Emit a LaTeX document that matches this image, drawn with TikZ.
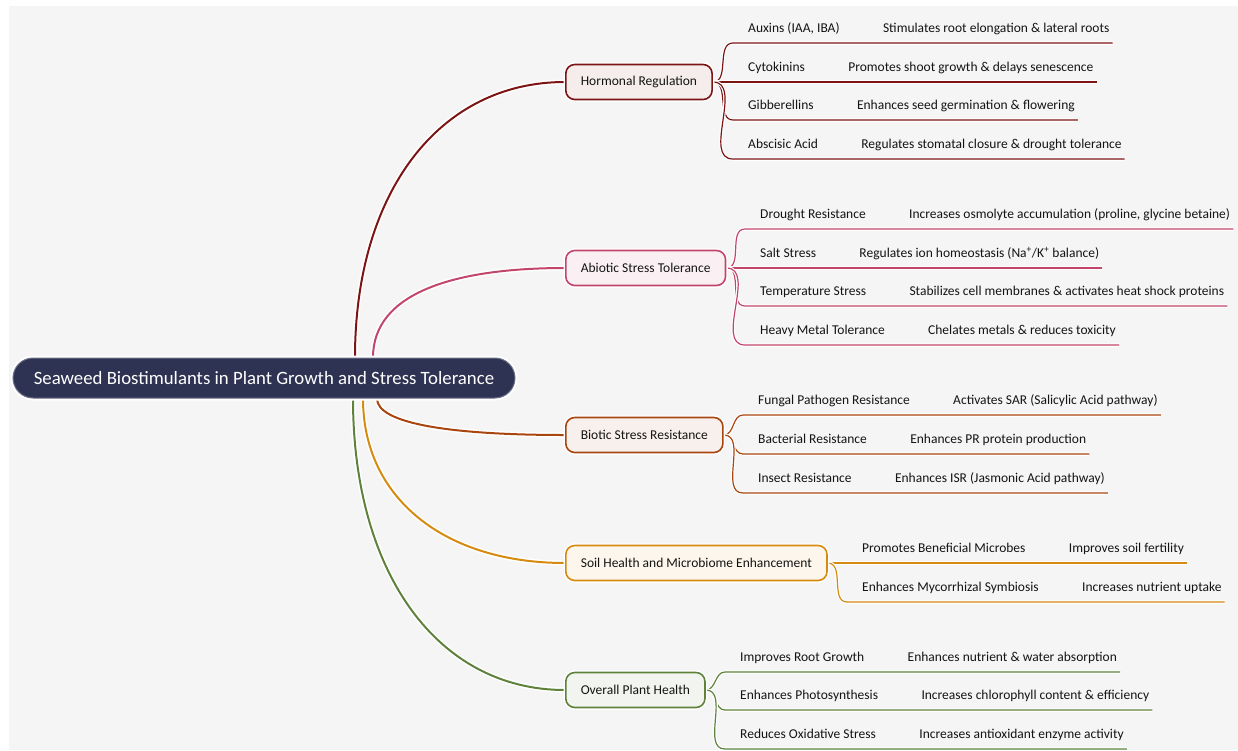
\documentclass[tikz,border=0pt]{standalone}
\usepackage{fontspec}
\setmainfont{Carlito}
\usetikzlibrary{positioning}
\definecolor{bgc}{HTML}{F5F5F5}
\definecolor{rootc}{HTML}{2F3353}
\definecolor{hrc}{HTML}{7D1414}
\definecolor{abc}{HTML}{C2466B}
\definecolor{bic}{HTML}{A9450F}
\definecolor{soc}{HTML}{D68A10}
\definecolor{ovc}{HTML}{5E823C}
\pgfdeclarelayer{bg}
\pgfsetlayers{bg,main}
\tikzset{
  every picture/.style={font=\fontsize{13.5}{15}\selectfont, text=black!92}}

\begin{document}
\begin{tikzpicture}[x=1pt, y=-1pt, node distance=25pt,
    central/.style={draw=rootc!70!white, fill=rootc, text=white, line width=1pt,
      rounded corners=20pt, minimum width=502pt, minimum height=40pt,
      font=\fontsize{18.8}{20}\selectfont, preaction={draw=white, line width=5pt}},
    topic/.style={draw=#1, fill=#1!8, line width=1.6pt, rounded corners=9pt,
      minimum height=35pt, inner xsep=15pt, anchor=west,
      preaction={draw=white, line width=4.5pt}},
    leaf/.style={inner xsep=15pt, inner ysep=7pt, text height=9pt, text depth=3pt,
      anchor=south west},
    effect/.style={leaf, inner xsep=3pt},
    trunk/.style={draw=#1, line width=2pt, preaction={draw=white, line width=5pt}},
    twig/.style={draw=#1, line width=1.2pt, preaction={draw=white, line width=3.5pt}}]

    \useasboundingbox (0,0) rectangle (1238,750);
    \begin{pgfonlayer}{bg}
      \fill[white] (0,0) rectangle (1238,750);
      \fill[bgc] (9,6) rectangle (1238,750);
    \end{pgfonlayer}

    % centre and main topics
    \node[central] (root) at (264,378) {Seaweed Biostimulants in Plant Growth and Stress Tolerance};

    \node[topic=hrc] (hr) at (565,82) {Hormonal Regulation};
    \node[topic=abc] (ab) at (565,268) {Abiotic Stress Tolerance};
    \node[topic=bic] (bi) at (565,435) {Biotic Stress Resistance};
    \node[topic=soc] (so) at (565,563) {Soil Health and Microbiome Enhancement};
    \node[topic=ovc] (ov) at (565,690) {Overall Plant Health};

    % hormonal regulation
    \node[leaf] (h1) at (733,43) {Auxins (IAA, IBA)};
    \node[effect, right=of h1] (h1d) {Stimulates root elongation \& lateral roots};
    \node[leaf] (h2) at (733,82) {Cytokinins};
    \node[effect, right=of h2] (h2d) {Promotes shoot growth \& delays senescence};
    \node[leaf] (h3) at (733,120) {Gibberellins};
    \node[effect, right=of h3] (h3d) {Enhances seed germination \& flowering};
    \node[leaf] (h4) at (733,159) {Abscisic Acid};
    \node[effect, right=of h4] (h4d) {Regulates stomatal closure \& drought tolerance};

    % abiotic stress
    \node[leaf] (a1) at (745,229) {Drought Resistance};
    \node[effect, right=of a1] (a1d) {Increases osmolyte accumulation (proline, glycine betaine)};
    \node[leaf] (a2) at (745,268) {Salt Stress};
    \node[effect, right=of a2] (a2d) {Regulates ion homeostasis (Na\textsuperscript{+}/K\textsuperscript{+} balance)};
    \node[leaf] (a3) at (745,306) {Temperature Stress};
    \node[effect, right=of a3] (a3d) {Stabilizes cell membranes \& activates heat shock proteins};
    \node[leaf] (a4) at (745,345) {Heavy Metal Tolerance};
    \node[effect, right=of a4] (a4d) {Chelates metals \& reduces toxicity};

    % biotic stress
    \node[leaf] (b1) at (743,415) {Fungal Pathogen Resistance};
    \node[effect, right=of b1] (b1d) {Activates SAR (Salicylic Acid pathway)};
    \node[leaf] (b2) at (743,454) {Bacterial Resistance};
    \node[effect, right=of b2] (b2d) {Enhances PR protein production};
    \node[leaf] (b3) at (743,493) {Insect Resistance};
    \node[effect, right=of b3] (b3d) {Enhances ISR (Jasmonic Acid pathway)};

    % soil health
    \node[leaf] (s1) at (847,563) {Promotes Beneficial Microbes};
    \node[effect, right=of s1] (s1d) {Improves soil fertility};
    \node[leaf] (s2) at (847,602) {Enhances Mycorrhizal Symbiosis};
    \node[effect, right=of s2] (s2d) {Increases nutrient uptake};

    % overall plant health
    \node[leaf] (o1) at (725,672) {Improves Root Growth};
    \node[effect, right=of o1] (o1d) {Enhances nutrient \& water absorption};
    \node[leaf] (o2) at (725,710) {Enhances Photosynthesis};
    \node[effect, right=of o2] (o2d) {Increases chlorophyll content \& efficiency};
    \node[leaf] (o3) at (725,749) {Reduces Oxidative Stress};
    \node[effect, right=of o3] (o3d) {Increases antioxidant enzyme activity};

    \begin{pgfonlayer}{bg}
      % trunks from the centre
      \draw[trunk=hrc] ([xshift=91pt]root.north) .. controls +(0,-165) and +(-126,0) .. (hr.west);
      \draw[trunk=abc] ([xshift=109pt]root.north) .. controls +(0,-65) and +(-110,0) .. (ab.west);
      \draw[trunk=bic] ([xshift=113pt]root.south) .. controls +(0,25) and +(-115,0) .. (bi.west);
      \draw[trunk=soc] ([xshift=99pt]root.south) .. controls +(0,100) and +(-120,0) .. (so.west);
      \draw[trunk=ovc] ([xshift=89pt]root.south) .. controls +(0,175) and +(-127,0) .. (ov.west);

      % twigs to the details
      \draw[twig=hrc] (hr.east) to[out=0,in=180] (h1.south west) -- (h1d.south east);
      \draw[twig=hrc] (hr.east) to[out=0,in=180] (h2.south west) -- (h2d.south east);
      \draw[twig=hrc] (hr.east) to[out=0,in=180] (h3.south west) -- (h3d.south east);
      \draw[twig=hrc] (hr.east) to[out=0,in=180] (h4.south west) -- (h4d.south east);

      \draw[twig=abc] (ab.east) to[out=0,in=180] (a1.south west) -- (a1d.south east);
      \draw[twig=abc] (ab.east) to[out=0,in=180] (a2.south west) -- (a2d.south east);
      \draw[twig=abc] (ab.east) to[out=0,in=180] (a3.south west) -- (a3d.south east);
      \draw[twig=abc] (ab.east) to[out=0,in=180] (a4.south west) -- (a4d.south east);

      \draw[twig=bic] (bi.east) to[out=0,in=180] (b1.south west) -- (b1d.south east);
      \draw[twig=bic] (bi.east) to[out=0,in=180] (b2.south west) -- (b2d.south east);
      \draw[twig=bic] (bi.east) to[out=0,in=180] (b3.south west) -- (b3d.south east);

      \draw[twig=soc] (so.east) to[out=0,in=180] (s1.south west) -- (s1d.south east);
      \draw[twig=soc] (so.east) to[out=0,in=180] (s2.south west) -- (s2d.south east);

      \draw[twig=ovc] (ov.east) to[out=0,in=180] (o1.south west) -- (o1d.south east);
      \draw[twig=ovc] (ov.east) to[out=0,in=180] (o2.south west) -- (o2d.south east);
      \draw[twig=ovc] (ov.east) to[out=0,in=180] (o3.south west) -- (o3d.south east);
    \end{pgfonlayer}
  \end{tikzpicture}
\end{document}
